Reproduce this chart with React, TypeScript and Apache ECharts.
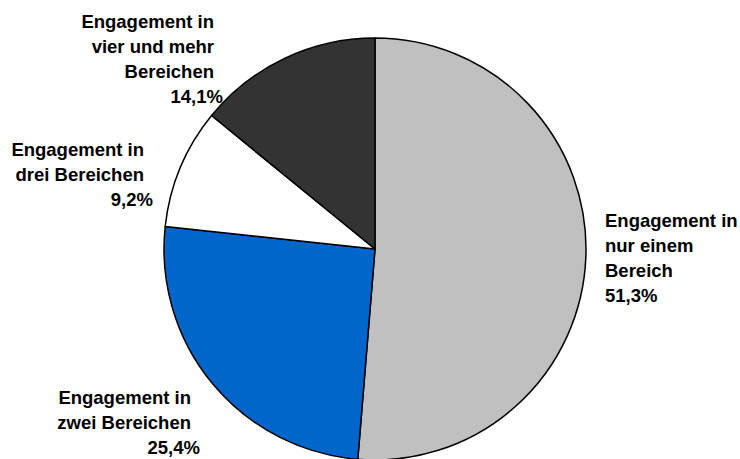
import React, { useEffect, useRef } from "react";
import * as echarts from "echarts";

// Share of volunteers by number of engagement areas (percent)
const categories = [
  "Engagement in\nnur einem\nBereich",
  "Engagement in\nzwei Bereichen",
  "Engagement in\ndrei Bereichen",
  "Engagement in\nvier und mehr\nBereichen",
];
const shares = [51.3, 25.4, 9.2, 14.1];
const sliceColors = ["#C0C0C0", "#0066CC", "#FFFFFF", "#333333"];

// Label anchors: x is the left edge (align left) or right edge (align right), y the top
const labelAnchors = [
  { x: 605, y: 208, align: "left" },
  { x: 200, y: 385, align: "right" },
  { x: 153, y: 137, align: "right" },
  { x: 223, y: 9, align: "right" },
];

const fmtPct = (v: number) => v.toFixed(1).replace(".", ",") + "%";

export default function App() {
  const ref = useRef<HTMLDivElement>(null);

  useEffect(() => {
    if (!ref.current) return;
    const chart = echarts.init(ref.current, null, { renderer: "svg" });
    const font = {
      fontFamily: "Liberation Sans, Arial, sans-serif",
      fontWeight: "bold" as const,
      fontSize: 18.5,
      color: "#000",
      lineHeight: 25,
    };
    chart.setOption({
      animation: false,
      backgroundColor: "#fff",
      series: [
        {
          type: "pie",
          center: [375, 249],
          radius: 211,
          startAngle: 90,
          clockwise: true,
          silent: true,
          itemStyle: { borderColor: "#000", borderWidth: 1.5 },
          labelLine: { show: false },
          label: {
            show: true,
            position: "outside",
            overflow: "none",
            width: 200,
            formatter: (p: any) => {
              const right = labelAnchors[p.dataIndex].align === "right";
              const lines = String(p.name)
                .split("\n")
                .map((l) => `{${right ? "nr" : "n"}|${l}}`);
              return [...lines, `{p|${fmtPct(p.value)}}`].join("\n");
            },
            rich: {
              n: { ...font },
              nr: { ...font, padding: [0, 9, 0, 0] },
              p: { ...font },
            },
          },
          labelLayout: (params: any) => {
            const a = labelAnchors[params.dataIndex];
            return { x: a.x, y: a.y, align: a.align, verticalAlign: "top" };
          },
          data: categories.map((name, i) => ({
            name,
            value: shares[i],
            itemStyle: { color: sliceColors[i] },
          })),
        },
      ],
    });
    return () => chart.dispose();
  }, []);

  return (
    <div
      ref={ref}
      style={{ position: "fixed", left: 0, top: 0, width: 740, height: 459 }}
    />
  );
}
